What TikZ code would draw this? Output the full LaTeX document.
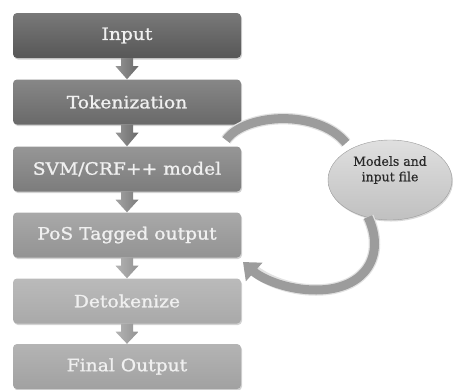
\documentclass[tikz,border=0pt]{standalone}
\usepackage{fontspec}
\usetikzlibrary{shapes.geometric,shadows,arrows.meta,calc}
\newfontfamily\boxfont[FakeStretch=1.1,FakeBold=1.2]{DejaVu Serif}
\newfontfamily\ellfont[FakeBold=0.6]{DejaVu Serif}
\definecolor{cA}{HTML}{575757}
\definecolor{cB}{HTML}{696969}
\definecolor{cC}{HTML}{7C7C7C}
\definecolor{cD}{HTML}{939393}
\definecolor{cE}{HTML}{A9A9A9}
\definecolor{cF}{HTML}{A1A1A1}
\definecolor{bandc}{HTML}{9C9C9C}
\definecolor{bandrim}{HTML}{E2E2E2}
\definecolor{ellfill}{HTML}{C0C0C0}
\definecolor{ellline}{HTML}{9A9A9A}
\definecolor{elltext}{HTML}{2A2A2A}
\tikzset{
  flowbox/.style={rectangle, rounded corners=4pt, minimum width=228pt,
    minimum height=45pt, inner sep=0pt, text=white!94!black,
    font=\boxfont\fontsize{17}{20}\selectfont,
    top color=#1!80!white, bottom color=#1,
    drop shadow={shadow xshift=1pt, shadow yshift=-1.5pt, opacity=0.35}},
  bandline/.style={line width=9pt, draw=bandc},
  bandback/.style={line width=11.5pt, draw=bandrim},
}
\newcommand\flowarr[3]{%
  \path[left color=#3!70!white, right color=#3, draw=none]
    let \p1=(#1.south), \p2=(#2.north) in
    (\x1-6pt,\y1) -- (\x1+6pt,\y1) -- (\x1+6pt,\y1-8pt) -- (\x1+11.5pt,\y1-8pt)
    -- (\x1,\y2) -- (\x1-11.5pt,\y1-8pt) -- (\x1-6pt,\y1-8pt) -- cycle;}
\begin{document}
\begin{tikzpicture}[x=1pt,y=-1pt]
\useasboundingbox (0,0) rectangle (456,389);
\node[flowbox=cA] (inp) at (127,35.5) {Input};
\node[flowbox=cB] (tok) at (127,102) {Tokenization};
\node[flowbox=cC] (svm) at (127,169) {SVM/CRF++ model};
\node[flowbox=cD] (pos) at (127,235) {PoS Tagged output};
\node[flowbox=cE] (det) at (127,301) {Detokenize};
\node[flowbox=cF] (fin) at (127,366.5) {Final Output};
\flowarr{inp}{tok}{cB}
\flowarr{tok}{svm}{cB}
\flowarr{svm}{pos}{cC}
\flowarr{pos}{det}{cD}
\flowarr{det}{fin}{cD}
\node[ellipse, minimum width=124pt, minimum height=80pt, draw=ellline,
  top color=ellfill!50!white, bottom color=ellfill, align=center,
  text=elltext, font=\ellfont\fontsize{12.5}{16.5}\selectfont,
  drop shadow={shadow xshift=1pt, shadow yshift=-1.5pt, opacity=0.3}]
  (mod) at (390,180) {Models and\\[-1pt]input file\\[6pt]};
\coordinate (t1) at (226,140);
\coordinate (t2) at (346,143);
\coordinate (b1) at (368,217);
\coordinate (b2) at (243,262);
\draw[bandback] (t1) .. controls (245,113) and (318,109) .. (t2);
\draw[bandline] (t1) .. controls (245,113) and (318,109) .. (t2);
\draw[bandback] (b1) .. controls (386,255) and (366,290) .. (316,290)
  .. controls (287,290) and (264,279) .. (252,269);
\draw[bandline, -{Triangle[width=24pt,length=15pt]}]
  (b1) .. controls (386,255) and (366,290) .. (316,290)
  .. controls (287,290) and (262,279) .. (b2);
\end{tikzpicture}
\end{document}
